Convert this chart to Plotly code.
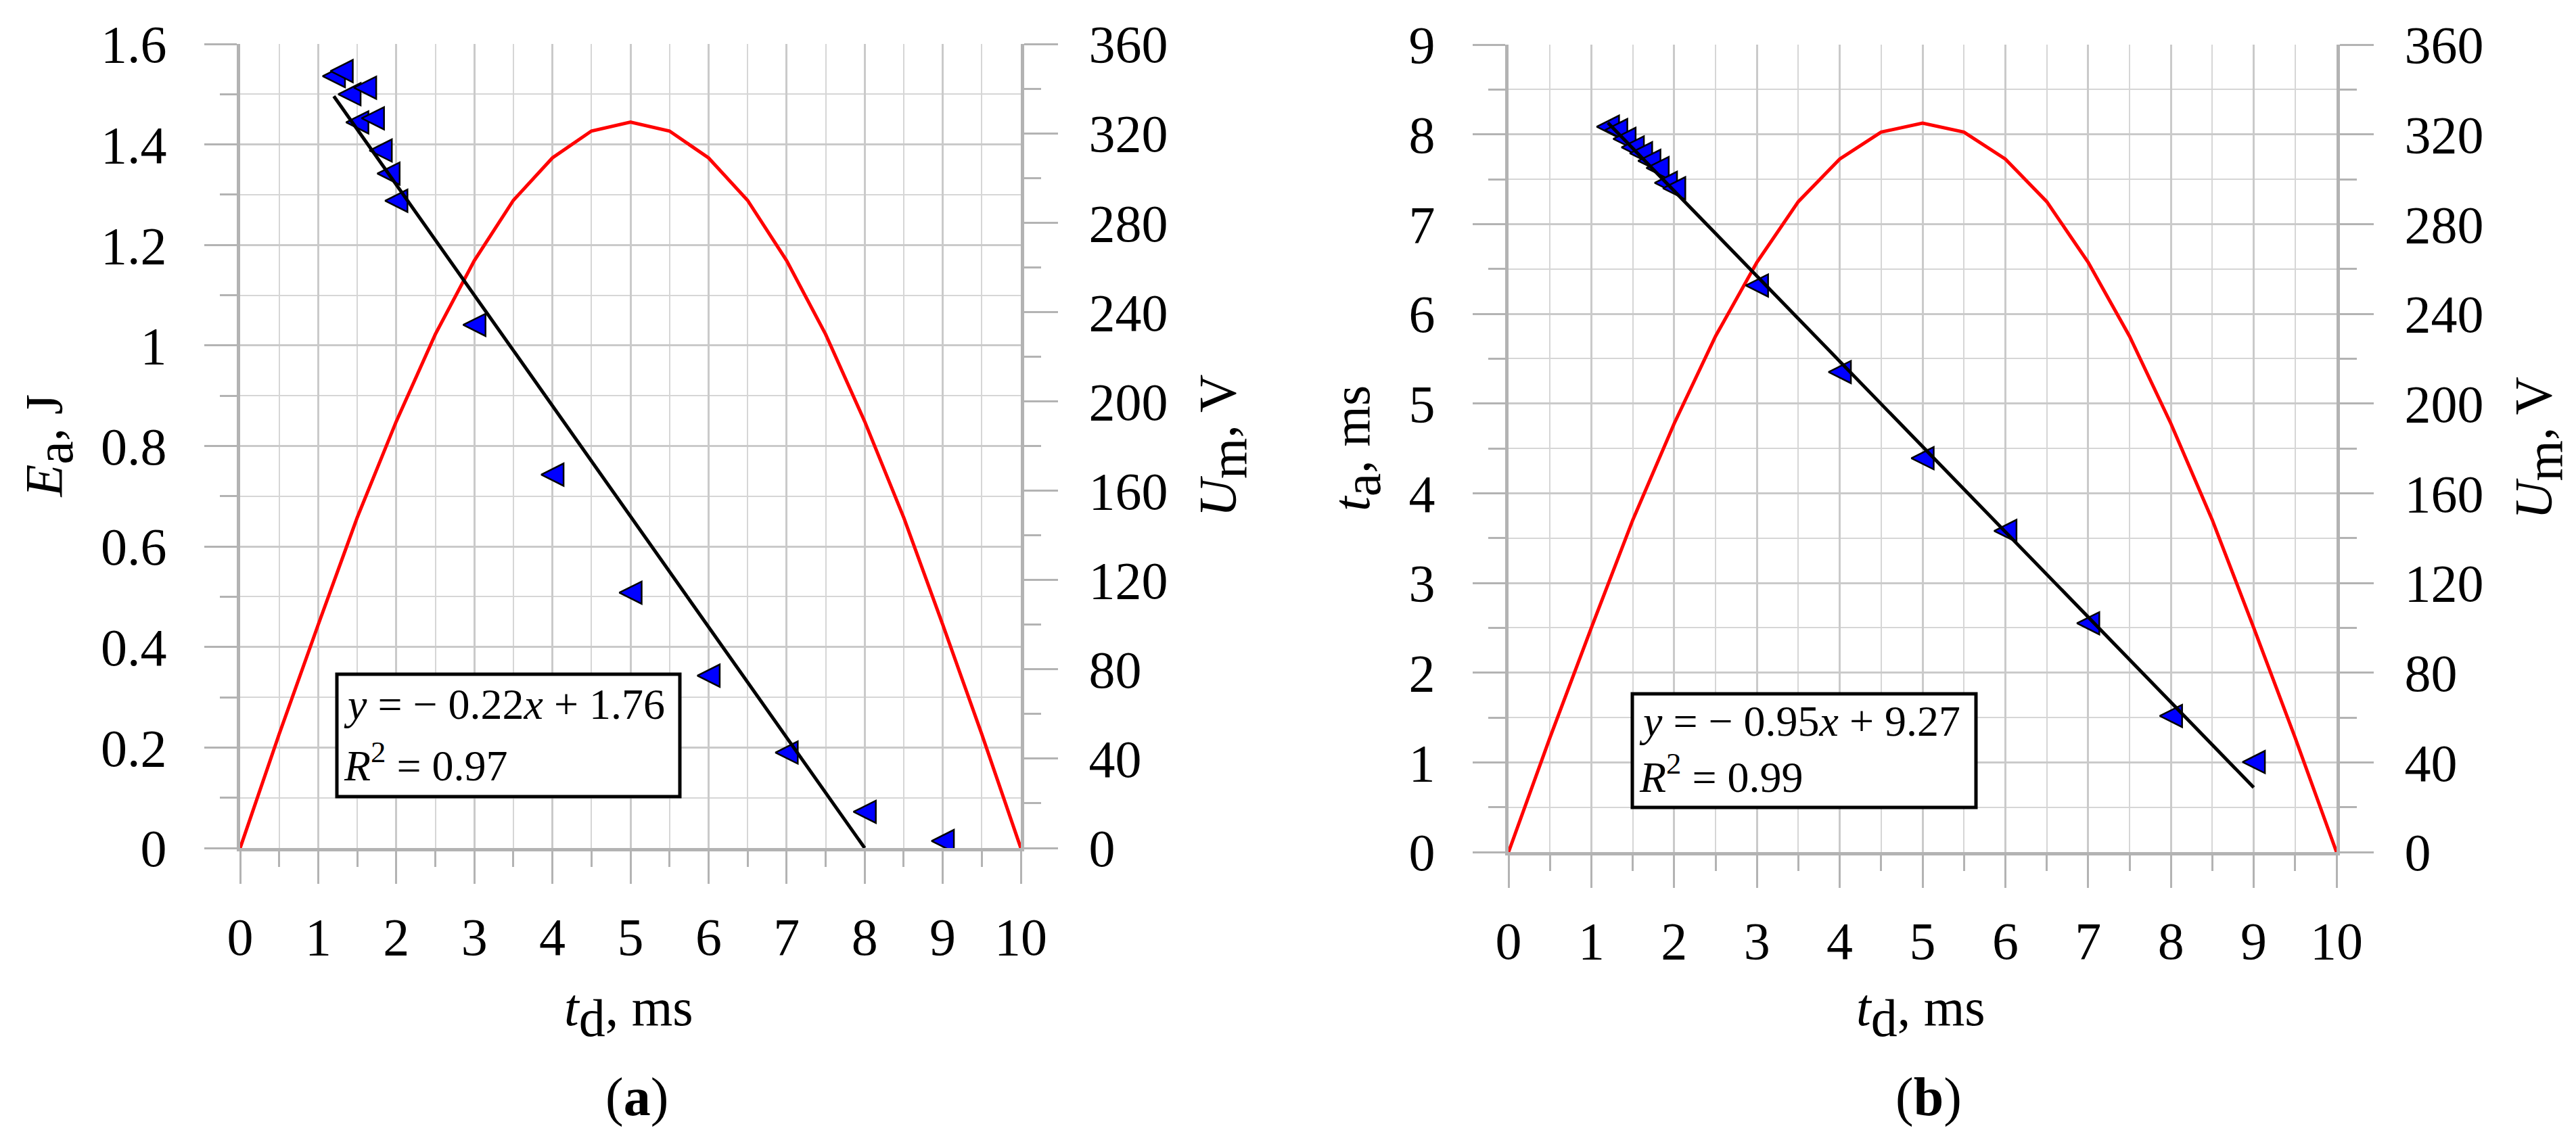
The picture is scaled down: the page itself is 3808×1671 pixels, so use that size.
import plotly.graph_objects as go

W, H = 3808, 1671

# ---------------- data ----------------
td_pts = [1.2, 1.3, 1.4, 1.5, 1.6, 1.7, 1.8, 1.9, 2.0, 3, 4, 5, 6, 7, 8, 9]
Ea = [1.536, 1.546, 1.50, 1.444, 1.513, 1.452, 1.388, 1.342, 1.288,
      1.041, 0.743, 0.508, 0.343, 0.190, 0.072, 0.014]
ta = [8.085, 8.048, 7.95, 7.855, 7.79, 7.705, 7.625, 7.46, 7.40,
      6.315, 5.35, 4.39, 3.58, 2.55, 1.517, 1.004]

td_u = [0, 0.5, 1, 1.5, 2, 2.5, 3, 3.5, 4, 4.5, 5, 5.5, 6, 6.5, 7, 7.5, 8, 8.5, 9, 9.5, 10]
Um = [0, 51, 100, 148, 191, 230, 263, 290, 309, 321, 325, 321, 309, 290, 263, 230,
      191, 148, 100, 51, 0]

trend_a_x = [1.2, 8.0]
trend_a_y = [1.496, 0.0]
trend_b_x = [1.2, 9.0]
trend_b_y = [8.13, 0.72]

eq_a = ["<i>y</i> = − 0.22<i>x</i> + 1.76", "<i>R</i><sup>2</sup> = 0.97"]
eq_b = ["<i>y</i> = − 0.95<i>x</i> + 9.27", "<i>R</i><sup>2</sup> = 0.99"]

# ---------------- styling ----------------
FONT = "Liberation Serif"
TF = 78
AX = "#b3b3b3"
GRID = "#cacaca"
MGRID = "#d6d6d6"


def px(x):
    return x / W


def py(y):
    return 1 - y / H


A = dict(l=347, r=1501, t=57, b=1246)
B = dict(l=2222, r=3446, t=58, b=1252)

fig = go.Figure()

MS = 33
marker = dict(symbol="arrow-down", angle=90, standoff=MS / 2, size=MS, color="#0000ff",
              line=dict(color="black", width=2.5))

fig.add_trace(go.Scatter(x=td_u, y=Um, mode="lines", line=dict(color="#ff0000", width=5),
                         xaxis="x", yaxis="y", showlegend=False))
fig.add_trace(go.Scatter(x=td_pts, y=Ea, mode="markers", marker=marker,
                         xaxis="x", yaxis="y2", showlegend=False))
fig.add_trace(go.Scatter(x=trend_a_x, y=trend_a_y, mode="lines", line=dict(color="black", width=5),
                         xaxis="x", yaxis="y2", showlegend=False))
fig.add_trace(go.Scatter(x=td_u, y=Um, mode="lines", line=dict(color="#ff0000", width=5),
                         xaxis="x2", yaxis="y3", showlegend=False))
fig.add_trace(go.Scatter(x=td_pts, y=ta, mode="markers", marker=marker,
                         xaxis="x2", yaxis="y4", showlegend=False))
fig.add_trace(go.Scatter(x=trend_b_x, y=trend_b_y, mode="lines", line=dict(color="black", width=5),
                         xaxis="x2", yaxis="y4", showlegend=False))

tickfont = dict(family=FONT, size=TF, color="black")
common = dict(automargin=False, zeroline=False, fixedrange=True, showline=True, linecolor=AX,
              linewidth=5, tickwidth=3, tickcolor=AX, ticks="outside", tickfont=tickfont,
              tickmode="linear", tick0=0)


def xax(dom, anchor):
    return dict(domain=dom, anchor=anchor, range=[0, 10], dtick=1, ticklen=48,
                showgrid=True, gridcolor=GRID, gridwidth=3,
                minor=dict(dtick=0.5, tick0=0, ticks="outside", ticklen=23, tickwidth=3, tickcolor=AX,
                           showgrid=True, gridcolor=MGRID, gridwidth=2),
                ticklabelstandoff=11, **common)


def yright(dom, anchor):
    return dict(domain=dom, anchor=anchor, side="right", range=[0, 360], dtick=40, ticklen=50,
                showgrid=False,
                minor=dict(dtick=20, tick0=0, ticks="outside", ticklen=25, tickwidth=3, tickcolor=AX,
                           showgrid=False),
                ticklabelstandoff=30, **common)


def yleft(over, anchor, rng, dt, mdt):
    return dict(overlaying=over, anchor=anchor, side="left", range=rng, dtick=dt, ticklen=48,
                showgrid=True, gridcolor=GRID, gridwidth=3,
                minor=dict(dtick=mdt, tick0=0, ticks="outside", ticklen=25, tickwidth=3, tickcolor=AX,
                           showgrid=True, gridcolor=MGRID, gridwidth=2),
                ticklabelstandoff=40, **common)


fig.update_layout(
    template="none",
    width=W, height=H, margin=dict(l=0, r=0, t=0, b=0, autoexpand=False),
    paper_bgcolor="white", plot_bgcolor="white", showlegend=False,
    font=dict(family=FONT, color="black"),
    xaxis=xax([px(A["l"]), px(A["r"])], "y"),
    yaxis=yright([py(A["b"]), py(A["t"])], "x"),
    yaxis2=yleft("y", "x", [0, 1.6], 0.2, 0.1),
    xaxis2=xax([px(B["l"]), px(B["r"])], "y3"),
    yaxis3=yright([py(B["b"]), py(B["t"])], "x2"),
    yaxis4=yleft("y3", "x2", [0, 9], 1, 0.5),
)

SUB = '<sub><span style="font-size:%dpx">%s</span></sub>'
annos = []


def ann(x, y, text, size=TF, angle=0, xanchor="center", yanchor="middle"):
    annos.append(dict(x=px(x), y=py(y), xref="paper", yref="paper", text=text, showarrow=False,
                      textangle=angle, xanchor=xanchor, yanchor=yanchor,
                      font=dict(family=FONT, size=size, color="black")))


for P, cap in ((A, "a"), (B, "b")):
    cx = (P["l"] + P["r"]) / 2
    ann(cx - 3, 1489, "<i>t</i>" + SUB % (TF, "d") + ", ms")
    ann(cx + 9, 1614, "(<b>%s</b>)" % cap, size=80)
    ann(P["r"] + 298, (P["t"] + P["b"]) / 2, "<i>U</i>" + SUB % (TF, "m") + ", V", angle=-90)

ann(64, (A["t"] + A["b"]) / 2, "<i>E</i>" + SUB % (TF, "a") + ", J", angle=-90)
ann(B["l"] - 225, (B["t"] + B["b"]) / 2, "<i>t</i>" + SUB % (TF, "a") + ", ms", angle=-90)

shapes = []
BF = 64
for (x0, x1, y0, y1, c1, c2, eq) in ((490, 997, 989, 1170, 1033, 1119, eq_a),
                                      (2405, 2913, 1018, 1186, 1058, 1136, eq_b)):
    shapes.append(dict(type="rect", xref="paper", yref="paper", x0=px(x0), x1=px(x1),
                       y0=py(y1), y1=py(y0), line=dict(color="black", width=5),
                       fillcolor="white", layer="above"))
    ann(x0 + 8, c1, eq[0], size=BF, xanchor="left")
    ann(x0 + 8, c2, eq[1], size=BF, xanchor="left")

fig.update_layout(annotations=annos, shapes=shapes)
fig.write_html("out.html")
